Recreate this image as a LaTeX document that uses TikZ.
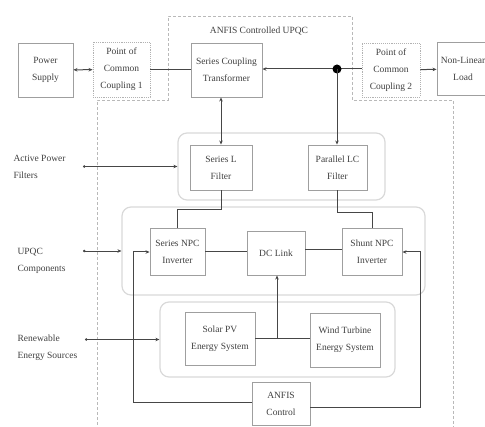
\documentclass[tikz,border=0pt]{standalone}
\usepackage{fontspec}
\setmainfont{Liberation Serif}
\usetikzlibrary{arrows.meta}
\begin{document}
\begin{tikzpicture}[x=1pt,y=-1pt,
  lbl/.style={font=\fontsize{9.5}{17}\selectfont, text=black!75},
  box/.style={draw=gray!75, line width=0.9pt, fill=white, align=center, inner sep=1pt,
    font=\fontsize{9.5}{17}\selectfont, text=black!75},
  pccbox/.style={box, draw=gray!60, densely dotted},
  grp/.style={draw=gray!30, line width=1.2pt, rounded corners=9pt},
  conn/.style={draw=gray!55!black, line width=1pt},
  dd/.style={{Circle[length=2.5pt]}-{Stealth[length=4pt,width=3.5pt]}},
  ar/.style={-{Stealth[length=4pt,width=3.5pt]}},
  bi/.style={{Stealth[length=4pt,width=3.5pt]}-{Stealth[length=4pt,width=3.5pt]}},
  outl/.style={draw=gray!55, line width=0.7pt, dash pattern=on 3pt off 2pt}]
\useasboundingbox (0,0) rectangle (485,427);
% outer dashed ANFIS controlled UPQC boundary
\draw[outl] (97,435) -- (97,100) -- (168,100) -- (168,16) -- (352,16) -- (352,100) -- (453,100) -- (453,435);
\node[lbl] (title) at (259,31) {ANFIS Controlled UPQC};
% groups
\node[grp, minimum width=207pt, minimum height=67pt] (apf) at (281.5,166.5) {};
\node[grp, minimum width=303pt, minimum height=88pt] (upqc) at (273.5,251) {};
\node[grp, minimum width=235pt, minimum height=75pt] (res) at (277.5,339.5) {};
% top row
\node[box, minimum width=55pt, minimum height=54pt] (ps) at (45.5,70) {Power\\Supply};
\node[pccbox, minimum width=57pt, minimum height=55pt] (pcc1) at (121.5,69.5) {Point of\\Common\\Coupling 1};
\node[box, minimum width=71pt, minimum height=54pt] (sct) at (226.5,70) {Series Coupling\\Transformer};
\node[pccbox, minimum width=58pt, minimum height=54pt] (pcc2) at (391,70) {Point of\\Common\\Coupling 2};
\node[box, minimum width=52pt, minimum height=53pt] (nll) at (463,69) {Non-Linear\\Load};
\coordinate (jn) at (337,69);
% filters
\node[box, minimum width=62pt, minimum height=45pt] (slf) at (221,167.5) {Series L\\Filter};
\node[box, minimum width=59pt, minimum height=45pt] (plc) at (337.5,167.5) {Parallel LC\\Filter};
% inverters
\node[box, minimum width=55pt, minimum height=47pt] (snpc) at (177.5,251.5) {Series NPC\\Inverter};
\node[box, minimum width=58pt, minimum height=44pt] (dcl) at (276,253.5) {DC Link};
\node[box, minimum width=60pt, minimum height=47pt] (shnpc) at (372,251.5) {Shunt NPC\\Inverter};
% renewables
\node[box, minimum width=70pt, minimum height=53pt] (spv) at (220,338.5) {Solar PV\\Energy System};
\node[box, minimum width=70pt, minimum height=54pt] (wind) at (345,340) {Wind Turbine\\Energy System};
% control
\node[box, minimum width=58pt, minimum height=43pt] (anfis) at (281,403.5) {ANFIS\\Control};
% side labels
\node[lbl, align=left, anchor=west] (apfL) at (10,167) {Active Power\\Filters};
\node[lbl, align=left, anchor=west] (upqcL) at (14,261) {UPQC\\Components};
\node[lbl, align=left, anchor=west] (resL) at (14,348) {Renewable\\Energy Sources};
\coordinate (a1) at (83,166.5);
\coordinate (a2) at (83,251);
\coordinate (a3) at (85,339.5);
\draw[conn, line width=0.7pt, dd] (a1) -- (apf.west);
\draw[conn, line width=0.7pt, dd] (a2) -- (upqc.west);
\draw[conn, line width=0.7pt, dd] (a3) -- (res.west);
% top connectors
\draw[conn, bi] (ps) -- (pcc1);
\draw[conn] (pcc1.east) -- (sct.west |- pcc1.east);
\draw[conn, ar] (jn) -- (sct.east |- jn);
\draw[conn] (jn) -- (pcc2.west |- jn);
\fill[black] (jn) circle (4.5pt);
\draw[conn, ar] (pcc2) -- (nll);
\draw[conn, bi] (sct.south -| slf.north) -- (slf.north);
\draw[conn, ar] (jn) -- (jn |- plc.north);
% filters to inverters
\draw[conn] (slf.south) -- ++(0,19) -| (snpc.north);
\draw[conn] (plc.south) -- ++(0,22) -| (shnpc.north);
\draw[conn] (snpc.east |- 0,252) -- (dcl.west |- 0,252);
\draw[conn] (dcl.east |- 0,250) -- (shnpc.west |- 0,250);
% renewables to DC link
\draw[conn] (spv.east |- 0,339) -- (wind.west |- 0,339);
\draw[conn, ar] (277,339) -- (277,275.5);
% control loops
\draw[conn, ar] (anfis.west |- 0,403) -| (133,252) -- (snpc.west |- 0,252);
\draw[conn, ar] (anfis.east |- 0,408) -| (420,252) -- (shnpc.east |- 0,252);
\end{tikzpicture}
\end{document}
